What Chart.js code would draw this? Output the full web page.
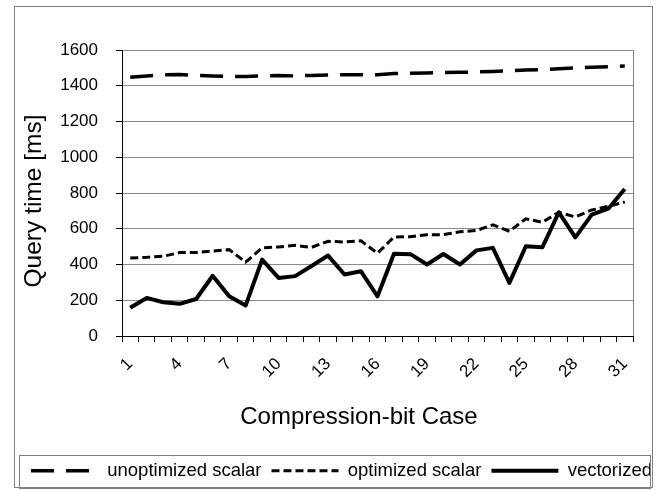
<!DOCTYPE html>
<html><head><meta charset="utf-8">
<script src="https://cdn.jsdelivr.net/npm/chart.js@4/dist/chart.umd.min.js"></script>
<style>html,body{margin:0;padding:0;background:#fff}#wrap{width:656px;height:490px}</style>
</head><body><div id="wrap"><canvas id="c" width="656" height="490"></canvas></div>
<script>
const categories = ['1','2','3','4','5','6','7','8','9','10','11','12','13','14','15','16','17','18','19','20','21','22','23','24','25','26','27','28','29','30','31'];
const shownTickLabels = ['1','4','7','10','13','16','19','22','25','28','31'];
const yTicks = [0,200,400,600,800,1000,1200,1400,1600];
const seriesNames = ['unoptimized scalar','optimized scalar','vectorized'];
const unoptimized = [1447,1455,1462,1463,1458,1455,1452,1452,1455,1457,1455,1458,1460,1462,1462,1462,1468,1470,1472,1474,1475,1477,1480,1483,1488,1490,1495,1500,1503,1506,1510];
const optimized = [437,440,446,467,467,475,483,413,493,498,507,496,530,526,532,463,554,555,567,567,583,590,622,586,656,636,692,666,705,725,750];
const vectorized = [158,213,189,180,207,337,222,170,427,325,335,392,450,344,362,222,460,458,400,459,400,479,493,297,502,496,692,552,679,712,822];

const FONT = "'Liberation Sans', Arial, sans-serif";
const PLOT = {left:122, right:633, top:50, bottom:336.5};
const PAD_LEFT = -20;
const LEGEND_START_X = 31;
const LEGEND_BOX = {x:19, y:455, w:631, h:33};
const OUTER = {x:14.5, y:6.5, w:638, h:481};

const decor = {
  id:'decor',
  beforeDraw(chart){
    const ctx = chart.ctx;
    ctx.save();
    ctx.fillStyle = '#fff';
    ctx.fillRect(0,0,chart.width,chart.height);
    ctx.strokeStyle = '#808080'; ctx.lineWidth = 1;
    ctx.strokeRect(OUTER.x, OUTER.y, OUTER.w, OUTER.h);
    ctx.restore();
  },
  afterLayout(chart){
    const lg = chart.legend;
    if (!lg || !lg.lineWidths) return;
    const pad = lg.options.labels.padding;
    const start = (lg.left + pad + lg.right - lg.lineWidths[0]) / 2;
    const dx = LEGEND_START_X - start;
    lg.left += dx; lg.right += dx;
  },
  beforeDatasetsDraw(chart){
    const ctx = chart.ctx, a = chart.chartArea;
    ctx.save();
    ctx.strokeStyle = '#808080'; ctx.lineWidth = 1;
    ctx.beginPath(); ctx.moveTo(a.right+0.5, a.top); ctx.lineTo(a.right+0.5, a.bottom); ctx.stroke();
    ctx.restore();
  },
  afterDraw(chart){
    const ctx = chart.ctx;
    ctx.save();
    ctx.strokeStyle = '#808080'; ctx.lineWidth = 1;
    ctx.strokeRect(LEGEND_BOX.x+0.5, LEGEND_BOX.y+0.5, LEGEND_BOX.w, LEGEND_BOX.h);
    ctx.fillStyle = '#000';
    ctx.textAlign = 'center'; ctx.textBaseline = 'middle';
    ctx.font = '24px ' + FONT;
    ctx.fillText('Compression-bit Case', 359, 417);
    ctx.font = '24.5px ' + FONT;
    ctx.translate(34.5, 201); ctx.rotate(-Math.PI/2);
    ctx.fillText('Query time [ms]', 0, 0);
    ctx.restore();
  }
};

new Chart(document.getElementById('c'), {
  type:'line',
  data:{
    labels: categories,
    datasets:[
      {label:seriesNames[0], data:unoptimized, borderColor:'#000', backgroundColor:'#000', borderWidth:3.5, borderDash:[23,12], pointRadius:0, tension:0, fill:false},
      {label:seriesNames[1], data:optimized, borderColor:'#000', backgroundColor:'#000', borderWidth:3, borderDash:[8,4], pointRadius:0, tension:0, fill:false},
      {label:seriesNames[2], data:vectorized, borderColor:'#000', backgroundColor:'#000', borderWidth:4, pointRadius:0, tension:0, fill:false, borderJoinStyle:'round'}
    ]
  },
  options:{
    responsive:false, animation:false, devicePixelRatio:1,
    layout:{padding:{left:PAD_LEFT, right:656-PLOT.right, top:PLOT.top, bottom:0}},
    plugins:{
      tooltip:{enabled:false},
      legend:{
        display:true, position:'bottom',
        labels:{usePointStyle:true, pointStyle:'line', pointStyleWidth:67, padding:10, color:'#000', font:{family:FONT, size:18.5},
          generateLabels(chart){
            return chart.data.datasets.map((ds, i) => ({
              text: ds.label, datasetIndex: i, hidden: false,
              fillStyle: ds.borderColor, strokeStyle: ds.borderColor,
              lineWidth: ds.borderWidth, lineDash: ds.borderDash || [], lineCap: 'butt',
              pointStyle: 'line', fontColor: '#000'
            }));
          }
        }
      }
    },
    scales:{
      x:{
        type:'category', offset:true,
        grid:{offset:true, drawOnChartArea:false, drawTicks:true, tickLength:6, color:'#000'},
        border:{display:true, color:'#000', width:1},
        ticks:{autoSkip:false, maxRotation:45, minRotation:45, padding:12, color:'#000', font:{family:FONT, size:17},
          callback(v, i){ const l = categories[i]; return shownTickLabels.includes(l) ? l : ''; }},
        afterFit(s){ s.height = 490 - 38 - PLOT.bottom; }
      },
      y:{
        min:0, max:1600,
        afterBuildTicks(s){ s.ticks = yTicks.map(v=>({value:v})); },
        grid:{color:'#8a8a8a', tickLength:6, tickColor:'#000'},
        border:{display:true, color:'#000', width:1},
        ticks:{padding:18, color:'#000', font:{family:FONT, size:17}, callback(v){ return String(v); }},
        afterFit(s){ s.width = PLOT.left - PAD_LEFT; }
      }
    }
  },
  plugins:[decor]
});
</script></body></html>
